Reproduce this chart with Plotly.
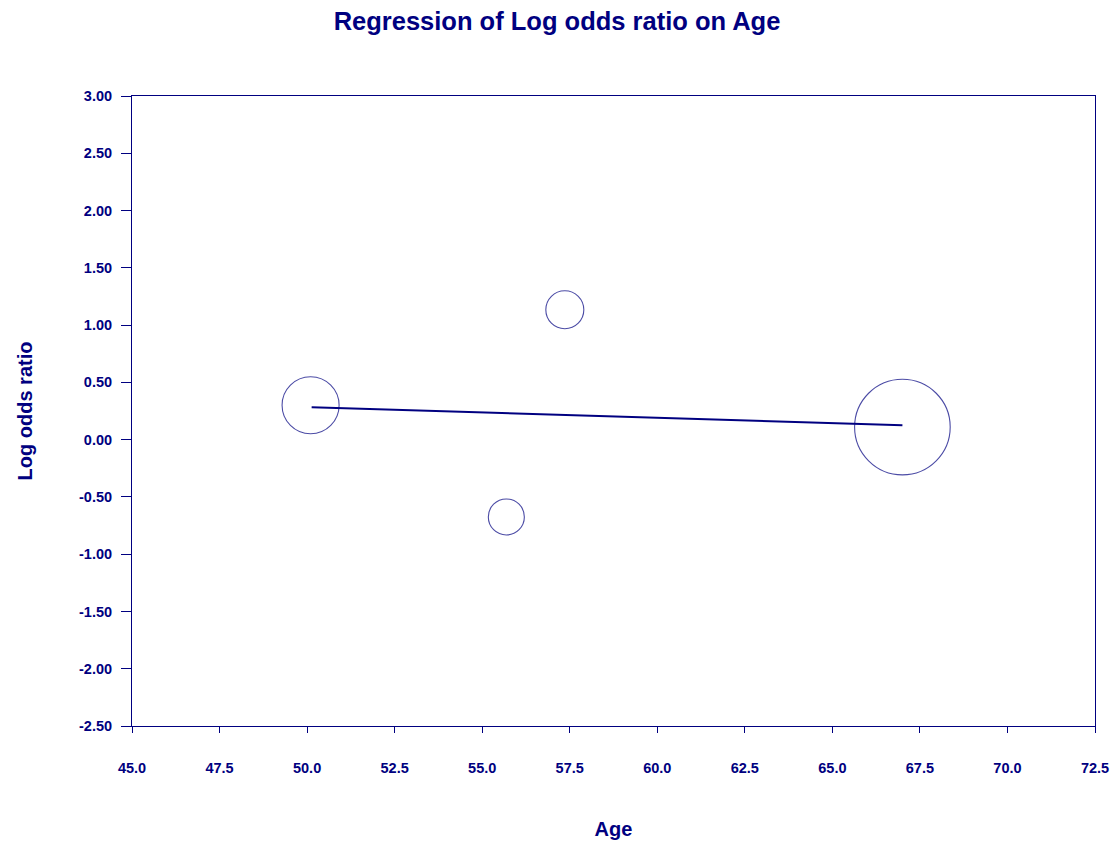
import plotly.graph_objects as go

# Study-level data
age = [50.1, 57.36, 55.69, 67.0]
log_odds = [0.30, 1.134, -0.675, 0.11]
weights = [35.6, 15.8, 14.2, 100.0]   # relative study weights (bubble area)

# Regression line endpoints
reg_age = [50.13, 67.0]
reg_log_odds = [0.282, 0.125]

# Axis ticks
x_ticks = [45.0, 47.5, 50.0, 52.5, 55.0, 57.5, 60.0, 62.5, 65.0, 67.5, 70.0, 72.5]
y_ticks = [3.0, 2.5, 2.0, 1.5, 1.0, 0.5, 0.0, -0.5, -1.0, -1.5, -2.0, -2.5]

navy = "#000080"
font_family = "Liberation Sans, Arial, sans-serif"
max_diam = 95.6

fig = go.Figure()
fig.add_trace(go.Scatter(
    x=age, y=log_odds, mode="markers",
    marker=dict(size=weights, sizemode="area", sizeref=2 * max(weights) / max_diam ** 2,
                color="rgba(0,0,0,0)", line=dict(color=navy, width=1.1)),
    showlegend=False, hoverinfo="x+y"))
fig.add_trace(go.Scatter(
    x=reg_age, y=reg_log_odds, mode="lines",
    line=dict(color=navy, width=2), showlegend=False))

# full-window figure; the page's default body margin is removed below
W, H = 1114, 846
fig.update_layout(
    width=W, height=H,
    paper_bgcolor="white", plot_bgcolor="white",
    margin=dict(l=132, r=19, t=96, b=120),
    title=dict(text="<b>Regression of Log odds ratio on Age</b>", x=0.5, xanchor="center",
               y=1 - 21 / H, yanchor="middle", xref="container",
               font=dict(family=font_family, size=25.5, color=navy)),
    font=dict(family=font_family, color=navy),
)
fig.update_xaxes(
    range=[45, 72.5], showgrid=False, zeroline=False, automargin=False,
    showline=True, linecolor=navy, linewidth=1, mirror=True,
    ticks="outside", ticklen=6, tickcolor=navy, tickwidth=1,
    tickvals=x_ticks, ticktext=[f"{v:.1f}" for v in x_ticks],
    tickfont=dict(family=font_family, size=14.5, color=navy, weight="bold"),
    ticklabelstandoff=23, ticklabeloverflow="allow",
    title=dict(text="<b>Age</b>", font=dict(family=font_family, size=20, color=navy), standoff=46),
)
fig.update_yaxes(
    range=[-2.5, 3.0], showgrid=False, zeroline=False, automargin=False,
    showline=True, linecolor=navy, linewidth=1, mirror=True,
    ticks="outside", ticklen=10, tickcolor=navy, tickwidth=1,
    tickvals=y_ticks, ticktext=[f"{v:.2f}" for v in y_ticks],
    tickfont=dict(family=font_family, size=14.5, color=navy, weight="bold"),
    ticklabelstandoff=6, ticklabeloverflow="allow",
    title=dict(text="<b>Log odds ratio</b>", font=dict(family=font_family, size=20, color=navy), standoff=41),
)

post = "document.body.style.margin='0';document.documentElement.style.overflow='hidden';"
fig.write_html("out.html", post_script=post, config={"displayModeBar": False})
